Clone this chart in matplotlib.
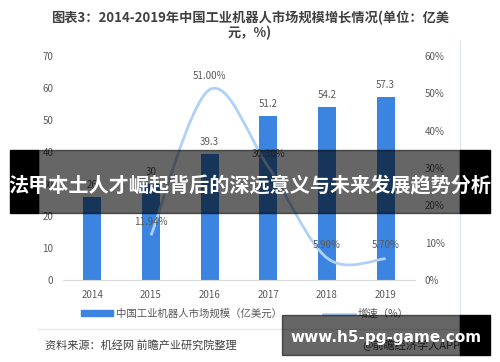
import numpy as np
import matplotlib
matplotlib.use("Agg")
import matplotlib.pyplot as plt
from matplotlib.path import Path
from matplotlib.patches import PathPatch, Rectangle
from matplotlib.lines import Line2D

plt.rcParams['font.family'] = ['Noto Sans CJK SC', 'DejaVu Sans']

# chart data
years = ['2014', '2015', '2016', '2017', '2018', '2019']
market_size = [26, 30, 39.3, 51.2, 54.2, 57.3]
growth_years = [1, 2, 3, 4, 5]  # index into years, growth starts in 2015
growth = [11.94, 51.00, 30.30, 5.90, 5.70]
growth_labels = ['11.94%', '51.00%', '30.30%', '5.90%', '5.70%']

title = '图表3：2014-2019年中国工业机器人市场规模增长情况(单位：亿美\n元，%)'
banner = '法甲本土人才崛起背后的深远意义与未来发展趋势分析'
site = 'www.h5-pg-game.com'

bar_color = '#3b84e0'
line_color = '#afd1f7'
txt = '#595959'

fig = plt.figure(figsize=(5, 3.62), dpi=100)
ax = fig.add_axes([0.126, 0.2265, 0.704, 0.6188])
ax2 = ax.twinx()

x = np.arange(len(years))
ax.bar(x, market_size, width=0.31, color=bar_color, zorder=2)
for xi, v in zip(x, market_size):
    ax.annotate(f'{v:g}', (xi, v), xytext=(0, 5), textcoords='offset points',
                ha='center', va='bottom', fontsize=7, color=txt)

ax.set_xlim(-0.5, 5.5)
ax.set_ylim(0, 70)
ax.set_yticks(range(0, 71, 10))
ax.set_xticks(x)
ax.set_xticklabels(years)
ax2.set_ylim(0, 60)
ax2.set_yticks(range(0, 61, 10))
ax2.set_yticklabels([f'{t}%' for t in range(0, 61, 10)])

for a in (ax, ax2):
    for s in a.spines.values():
        s.set_visible(False)
    a.tick_params(length=0, labelsize=7, colors=txt)
ax.spines['bottom'].set_visible(True)
ax.spines['bottom'].set_color('#d9d9d9')
ax.tick_params(axis='y', pad=7)
ax.tick_params(axis='x', pad=7)
ax2.tick_params(axis='y', pad=7)

# smoothed growth line (bezier through data points)
px = np.array(growth_years, dtype=float)
py = np.array(growth, dtype=float)
pts = np.column_stack([px, py])
ext = np.vstack([pts[0], pts, pts[-1]])
verts = [tuple(pts[0])]
codes = [Path.MOVETO]
for i in range(len(pts) - 1):
    p0, p1, p2, p3 = ext[i], ext[i + 1], ext[i + 2], ext[i + 3]
    c1 = p1 + (p2 - p0) / 6
    c2 = p2 - (p3 - p1) / 6
    verts += [tuple(c1), tuple(c2), tuple(p2)]
    codes += [Path.CURVE4] * 3
ax2.add_patch(PathPatch(Path(verts, codes), fill=False, edgecolor=line_color,
                        lw=2, zorder=3))
for xi, v, lab in zip(growth_years, growth, growth_labels):
    ax2.annotate(lab, (xi, v), xytext=(0, 6), textcoords='offset points',
                 ha='center', va='bottom', fontsize=7, color=txt)

fig.text(0.5, 0.97, title, ha='center', va='top', fontsize=9.5,
         fontweight='bold', color='#404040', linespacing=1.0)

# legend
handles = [Rectangle((0, 0), 1, 1, color=bar_color),
           Line2D([0], [0], color=line_color, lw=2)]
fig.legend(handles, ['中国工业机器人市场规模（亿美元）', '增速（%）'],
           loc='center', bbox_to_anchor=(0.49, 0.133), ncol=2, frameon=False,
           fontsize=7.5, labelcolor=txt, handlelength=3, handleheight=0.5,
           columnspacing=4, handletextpad=0.3)

# frame lines
fig.add_artist(Line2D([0.076, 0.92], [0.091, 0.091], color='#dfe7f1', lw=1))
fig.add_artist(Line2D([0.92, 0.92], [0.091, 0.89], color='#dfe7f1', lw=1))

fig.text(0.09, 0.047, '资料来源：机经网 前瞻产业研究院整理', ha='left',
         va='center', fontsize=8, color='#404040')
fig.text(0.92, 0.047, '@前瞻经济学人APP', ha='right', va='center',
         fontsize=8, color='#404040')

# overlay banner
fig.add_artist(Rectangle((0.02, 0.4116), 0.056, 0.174, color='black',
                         transform=fig.transFigure, zorder=10))
fig.add_artist(Rectangle((0.92, 0.4116), 0.06, 0.174, color='black',
                         transform=fig.transFigure, zorder=10))
fig.add_artist(Rectangle((0.076, 0.4116), 0.844, 0.174, color='black',
                         alpha=0.6, transform=fig.transFigure, zorder=10))
fig.text(0.5, 0.486, banner, ha='center', va='center', fontsize=14.5,
         fontweight='bold', color='white', zorder=11)

# site watermark box
fig.add_artist(Rectangle((0.564, 0.019), 0.356, 0.111, color='black',
                         alpha=0.6, transform=fig.transFigure, zorder=10))
fig.add_artist(Rectangle((0.92, 0.019), 0.06, 0.111, color='black',
                         transform=fig.transFigure, zorder=10))
fig.text(0.772, 0.069, site, ha='center', va='center', fontsize=11,
         fontweight='bold', color='white', family='DejaVu Sans', zorder=11)

fig.savefig('out.png', dpi=100)
